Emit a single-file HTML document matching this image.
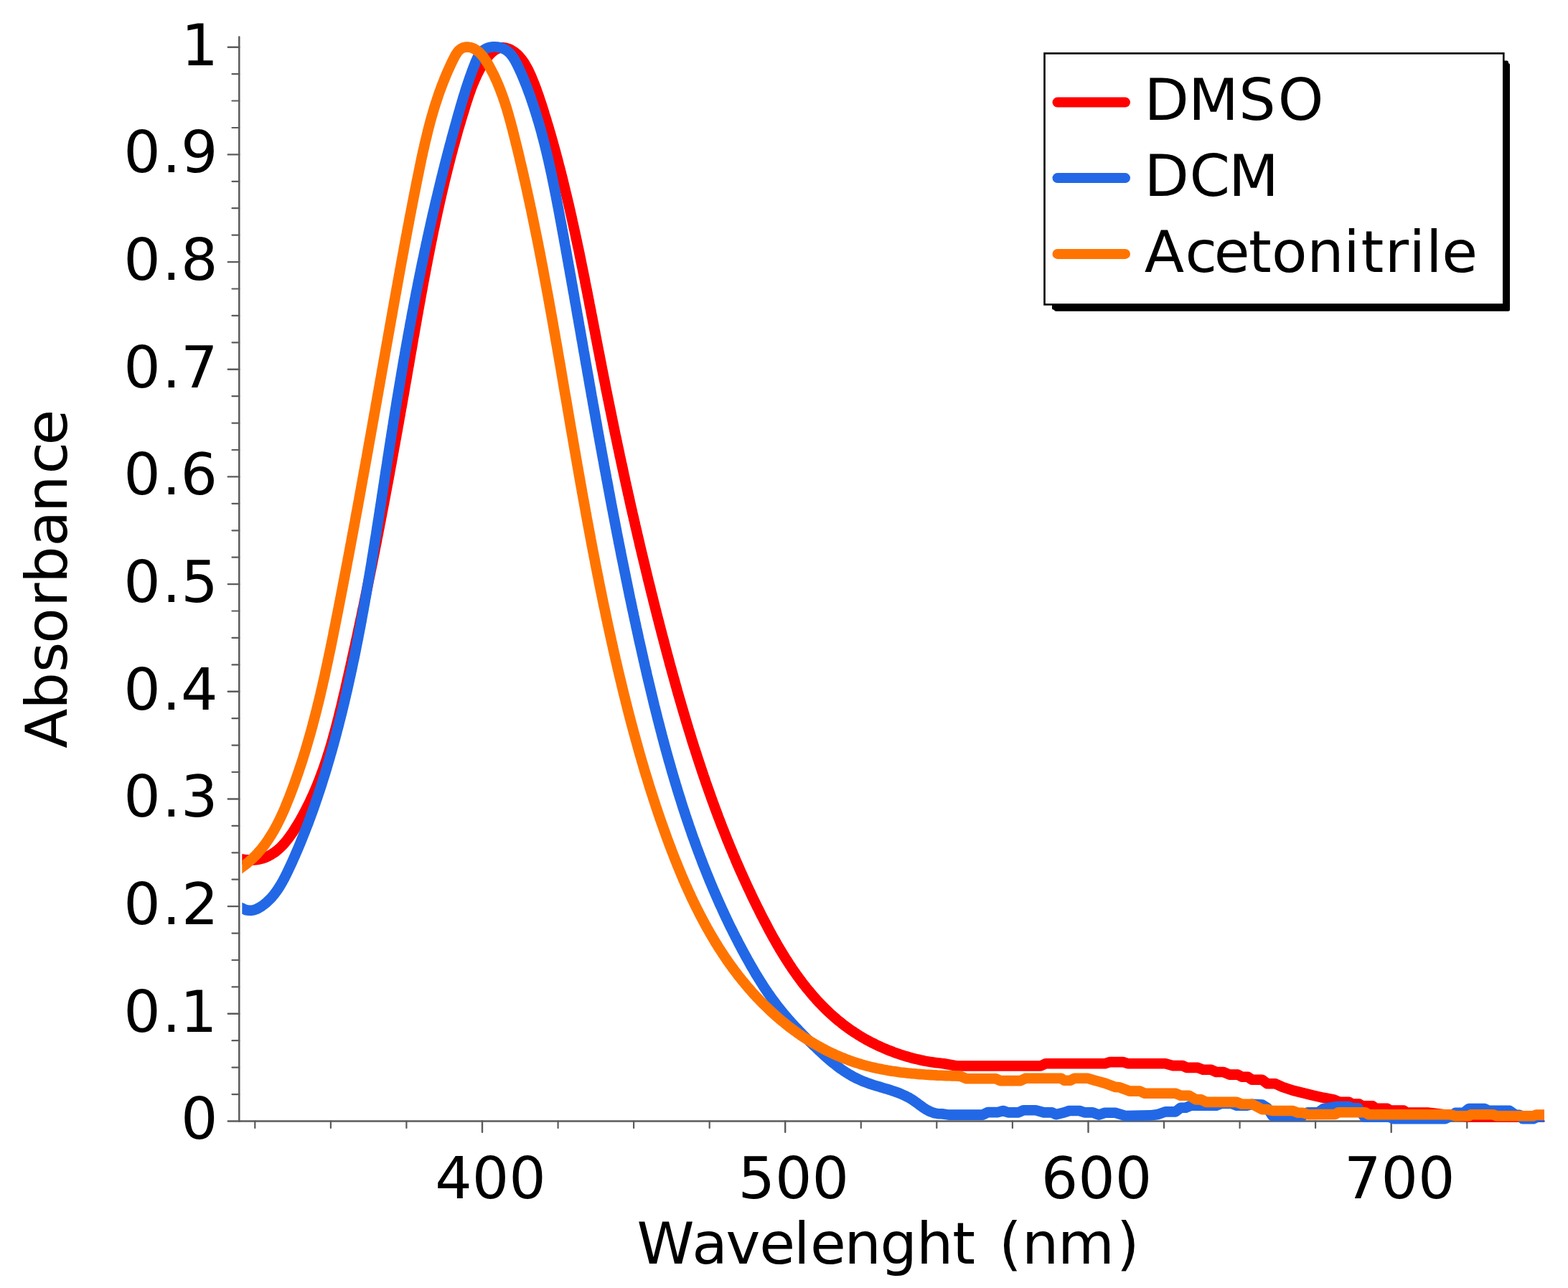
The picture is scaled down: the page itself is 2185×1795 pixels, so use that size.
<!DOCTYPE html><html><head><meta charset="utf-8"><title>Absorbance spectra</title>
<style>html,body{margin:0;padding:0;background:#fff}body{width:2185px;height:1795px;overflow:hidden}svg{display:block}</style></head><body>
<svg xmlns="http://www.w3.org/2000/svg" width="2185" height="1795" viewBox="0 0 2185 1795">
<rect width="2185" height="1795" fill="#fff"/>
<g stroke="#5b5b5b" fill="none" stroke-linecap="round">
<line x1="333.3" y1="51.6" x2="333.3" y2="1562.5" stroke-width="2.5"/>
<line x1="333.3" y1="1562.5" x2="2151.5" y2="1562.5" stroke-width="2.5"/>
<line x1="317.8" y1="1562.5" x2="333.3" y2="1562.5" stroke-width="2.4"/>
<line x1="323.5" y1="1525.1" x2="333.3" y2="1525.1" stroke-width="2.2"/>
<line x1="323.5" y1="1487.7" x2="333.3" y2="1487.7" stroke-width="2.2"/>
<line x1="323.5" y1="1450.2" x2="333.3" y2="1450.2" stroke-width="2.2"/>
<line x1="317.8" y1="1412.8" x2="333.3" y2="1412.8" stroke-width="2.4"/>
<line x1="323.5" y1="1375.4" x2="333.3" y2="1375.4" stroke-width="2.2"/>
<line x1="323.5" y1="1338.0" x2="333.3" y2="1338.0" stroke-width="2.2"/>
<line x1="323.5" y1="1300.6" x2="333.3" y2="1300.6" stroke-width="2.2"/>
<line x1="317.8" y1="1263.1" x2="333.3" y2="1263.1" stroke-width="2.4"/>
<line x1="323.5" y1="1225.7" x2="333.3" y2="1225.7" stroke-width="2.2"/>
<line x1="323.5" y1="1188.3" x2="333.3" y2="1188.3" stroke-width="2.2"/>
<line x1="323.5" y1="1150.9" x2="333.3" y2="1150.9" stroke-width="2.2"/>
<line x1="317.8" y1="1113.5" x2="333.3" y2="1113.5" stroke-width="2.4"/>
<line x1="323.5" y1="1076.0" x2="333.3" y2="1076.0" stroke-width="2.2"/>
<line x1="323.5" y1="1038.6" x2="333.3" y2="1038.6" stroke-width="2.2"/>
<line x1="323.5" y1="1001.2" x2="333.3" y2="1001.2" stroke-width="2.2"/>
<line x1="317.8" y1="963.8" x2="333.3" y2="963.8" stroke-width="2.4"/>
<line x1="323.5" y1="926.4" x2="333.3" y2="926.4" stroke-width="2.2"/>
<line x1="323.5" y1="888.9" x2="333.3" y2="888.9" stroke-width="2.2"/>
<line x1="323.5" y1="851.5" x2="333.3" y2="851.5" stroke-width="2.2"/>
<line x1="317.8" y1="814.1" x2="333.3" y2="814.1" stroke-width="2.4"/>
<line x1="323.5" y1="776.7" x2="333.3" y2="776.7" stroke-width="2.2"/>
<line x1="323.5" y1="739.3" x2="333.3" y2="739.3" stroke-width="2.2"/>
<line x1="323.5" y1="701.8" x2="333.3" y2="701.8" stroke-width="2.2"/>
<line x1="317.8" y1="664.4" x2="333.3" y2="664.4" stroke-width="2.4"/>
<line x1="323.5" y1="627.0" x2="333.3" y2="627.0" stroke-width="2.2"/>
<line x1="323.5" y1="589.6" x2="333.3" y2="589.6" stroke-width="2.2"/>
<line x1="323.5" y1="552.2" x2="333.3" y2="552.2" stroke-width="2.2"/>
<line x1="317.8" y1="514.7" x2="333.3" y2="514.7" stroke-width="2.4"/>
<line x1="323.5" y1="477.3" x2="333.3" y2="477.3" stroke-width="2.2"/>
<line x1="323.5" y1="439.9" x2="333.3" y2="439.9" stroke-width="2.2"/>
<line x1="323.5" y1="402.5" x2="333.3" y2="402.5" stroke-width="2.2"/>
<line x1="317.8" y1="365.1" x2="333.3" y2="365.1" stroke-width="2.4"/>
<line x1="323.5" y1="327.6" x2="333.3" y2="327.6" stroke-width="2.2"/>
<line x1="323.5" y1="290.2" x2="333.3" y2="290.2" stroke-width="2.2"/>
<line x1="323.5" y1="252.8" x2="333.3" y2="252.8" stroke-width="2.2"/>
<line x1="317.8" y1="215.4" x2="333.3" y2="215.4" stroke-width="2.4"/>
<line x1="323.5" y1="178.0" x2="333.3" y2="178.0" stroke-width="2.2"/>
<line x1="323.5" y1="140.5" x2="333.3" y2="140.5" stroke-width="2.2"/>
<line x1="323.5" y1="103.1" x2="333.3" y2="103.1" stroke-width="2.2"/>
<line x1="317.8" y1="65.7" x2="333.3" y2="65.7" stroke-width="2.4"/>
<line x1="355.3" y1="1562.5" x2="355.3" y2="1572" stroke-width="2.2"/>
<line x1="460.9" y1="1562.5" x2="460.9" y2="1572" stroke-width="2.2"/>
<line x1="566.4" y1="1562.5" x2="566.4" y2="1572" stroke-width="2.2"/>
<line x1="672.0" y1="1562.5" x2="672.0" y2="1577.7" stroke-width="2.4"/>
<line x1="777.6" y1="1562.5" x2="777.6" y2="1572" stroke-width="2.2"/>
<line x1="883.1" y1="1562.5" x2="883.1" y2="1572" stroke-width="2.2"/>
<line x1="988.7" y1="1562.5" x2="988.7" y2="1572" stroke-width="2.2"/>
<line x1="1094.2" y1="1562.5" x2="1094.2" y2="1577.7" stroke-width="2.4"/>
<line x1="1199.8" y1="1562.5" x2="1199.8" y2="1572" stroke-width="2.2"/>
<line x1="1305.3" y1="1562.5" x2="1305.3" y2="1572" stroke-width="2.2"/>
<line x1="1410.9" y1="1562.5" x2="1410.9" y2="1572" stroke-width="2.2"/>
<line x1="1516.5" y1="1562.5" x2="1516.5" y2="1577.7" stroke-width="2.4"/>
<line x1="1622.0" y1="1562.5" x2="1622.0" y2="1572" stroke-width="2.2"/>
<line x1="1727.6" y1="1562.5" x2="1727.6" y2="1572" stroke-width="2.2"/>
<line x1="1833.1" y1="1562.5" x2="1833.1" y2="1572" stroke-width="2.2"/>
<line x1="1938.7" y1="1562.5" x2="1938.7" y2="1577.7" stroke-width="2.4"/>
<line x1="2044.3" y1="1562.5" x2="2044.3" y2="1572" stroke-width="2.2"/>
</g>
<g font-family="'DejaVu Sans','Liberation Sans',sans-serif" font-size="81" fill="#000">
<text x="252.0" y="1587.3" font-size="81">0</text>
<text x="172.3 225.9 251.1" y="1437.6" font-size="81">0.1</text>
<text x="172.3 225.9 252.9" y="1287.9" font-size="81">0.2</text>
<text x="172.3 225.9 252.0" y="1138.3" font-size="81">0.3</text>
<text x="172.3 225.9 252.1" y="988.6" font-size="81">0.4</text>
<text x="172.3 225.9 252.2" y="838.9" font-size="81">0.5</text>
<text x="172.3 225.9 251.6" y="689.2" font-size="81">0.6</text>
<text x="172.3 225.9 252.0" y="539.5" font-size="81">0.7</text>
<text x="172.3 225.9 251.9" y="389.9" font-size="81">0.8</text>
<text x="172.3 225.9 252.1" y="240.2" font-size="81">0.9</text>
<text x="252.4" y="90.5" font-size="81">1</text>
<text x="683.5" y="1669.5" text-anchor="middle">400</text>
<text x="1105.7" y="1669.5" text-anchor="middle">500</text>
<text x="1528.0" y="1669.5" text-anchor="middle">600</text>
<text x="1950.2" y="1669.5" text-anchor="middle">700</text>
<text x="887.6 964.2 1011.5 1058.2 1106.0 1128.9 1176.5 1226.6 1276.9 1327.3 1359.1 1392.0 1423.9 1474.0 1556.0" y="1760.7" font-size="81">Wavelenght (nm)</text>
<text transform="translate(92.7,1100.0) rotate(-90)" x="56.9 111.6 162.9 203.2 254.2 287.2 338.5 385.9 439.6 479.4" y="0">Absorbance</text>
</g>
<defs><clipPath id="pc"><rect x="337.3" y="0" width="1814.7" height="1795"/></clipPath></defs>
<g fill="none" stroke-width="14.6" stroke-linejoin="round" stroke-linecap="butt" clip-path="url(#pc)">
<polyline stroke="#ff0000" points="327.1,1196.2 337.1,1197.4 340.6,1198.0 344.0,1198.4 347.3,1198.6 350.5,1198.7 353.7,1198.5 356.7,1198.2 359.7,1197.8 362.6,1197.2 365.4,1196.5 368.1,1195.6 370.7,1194.6 373.3,1193.4 375.8,1192.1 378.3,1190.7 380.6,1189.2 383.0,1187.6 385.2,1185.9 387.4,1184.1 389.5,1182.2 391.6,1180.2 393.7,1178.1 395.6,1176.0 397.6,1173.7 399.4,1171.5 401.3,1169.1 403.1,1166.7 404.8,1164.3 406.6,1161.8 408.3,1159.3 409.9,1156.8 411.5,1154.2 413.1,1151.6 414.7,1149.0 416.3,1146.4 417.8,1143.8 419.3,1141.2 420.8,1138.5 422.2,1135.9 423.6,1133.3 425.1,1130.6 426.4,1127.9 427.8,1125.2 429.1,1122.6 430.5,1119.9 431.8,1117.2 433.0,1114.4 434.3,1111.7 435.6,1109.0 436.8,1106.3 438.0,1103.5 439.2,1100.8 440.3,1098.0 441.5,1095.3 442.6,1092.5 443.7,1089.7 444.8,1086.9 445.9,1084.1 446.9,1081.3 448.0,1078.5 449.0,1075.7 450.0,1072.9 451.0,1070.1 452.0,1067.3 453.0,1064.4 453.9,1061.6 454.9,1058.8 455.8,1055.9 456.7,1053.1 457.6,1050.2 458.5,1047.4 459.4,1044.5 460.3,1041.6 461.1,1038.8 462.0,1035.9 462.8,1033.0 463.6,1030.1 464.4,1027.2 465.2,1024.3 466.0,1021.4 466.8,1018.5 467.6,1015.6 468.4,1012.7 469.1,1009.8 469.9,1006.9 470.6,1004.0 471.4,1001.1 472.1,998.2 472.8,995.3 473.5,992.4 474.3,989.4 475.0,986.5 475.7,983.6 476.4,980.7 477.1,977.7 477.7,974.8 478.4,971.9 479.1,969.0 479.8,966.0 480.5,963.1 481.2,960.2 481.8,957.2 482.5,954.3 483.2,951.4 483.8,948.5 484.5,945.5 485.2,942.6 485.8,939.7 486.5,936.7 487.2,933.8 487.8,930.9 488.5,928.0 489.1,925.0 489.8,922.1 490.4,919.2 491.1,916.2 491.7,913.3 492.4,910.4 493.0,907.4 493.7,904.5 494.3,901.6 495.0,898.7 495.6,895.7 496.2,892.8 496.9,889.9 497.5,886.9 498.2,884.0 498.8,881.1 499.4,878.1 500.0,875.2 500.7,872.3 501.3,869.3 501.9,866.4 502.5,863.5 503.2,860.6 503.8,857.6 504.4,854.7 505.0,851.8 505.6,848.8 506.3,845.9 506.9,843.0 507.5,840.0 508.1,837.1 508.7,834.2 509.3,831.2 509.9,828.3 510.5,825.4 511.1,822.4 511.7,819.5 512.3,816.6 512.9,813.6 513.5,810.7 514.1,807.8 514.7,804.8 515.3,801.9 515.9,799.0 516.5,796.0 517.1,793.1 517.7,790.2 518.3,787.2 518.9,784.3 519.5,781.4 520.0,778.4 520.6,775.5 521.2,772.6 521.8,769.6 522.4,766.7 522.9,763.8 523.5,760.8 524.1,757.9 524.7,755.0 525.2,752.0 525.8,749.1 526.4,746.1 527.0,743.2 527.5,740.3 528.1,737.3 528.7,734.4 529.2,731.5 529.8,728.5 530.4,725.6 530.9,722.6 531.5,719.7 532.1,716.8 532.6,713.8 533.2,710.9 533.7,708.0 534.3,705.0 534.9,702.1 535.4,699.1 536.0,696.2 536.5,693.3 537.1,690.3 537.6,687.4 538.2,684.4 538.7,681.5 539.3,678.6 539.8,675.6 540.4,672.7 540.9,669.7 541.5,666.8 542.0,663.8 542.6,660.9 543.1,658.0 543.6,655.0 544.2,652.1 544.7,649.1 545.3,646.2 545.8,643.2 546.3,640.3 546.9,637.3 547.4,634.4 547.9,631.5 548.5,628.5 549.0,625.6 549.5,622.6 550.1,619.7 550.6,616.7 551.1,613.8 551.7,610.8 552.2,607.9 552.7,604.9 553.3,602.0 553.8,599.0 554.3,596.1 554.8,593.1 555.4,590.2 555.9,587.2 556.4,584.3 556.9,581.3 557.5,578.4 558.0,575.4 558.5,572.5 559.0,569.5 559.6,566.6 560.1,563.6 560.6,560.7 561.1,557.7 561.6,554.8 562.2,551.8 562.7,548.9 563.2,545.9 563.7,543.0 564.2,540.0 564.7,537.0 565.2,534.1 565.8,531.1 566.3,528.2 566.8,525.2 567.3,522.3 567.8,519.3 568.3,516.3 568.8,513.4 569.4,510.4 569.9,507.5 570.4,504.5 570.9,501.6 571.4,498.6 571.9,495.6 572.4,492.7 572.9,489.7 573.5,486.8 574.0,483.8 574.5,480.8 575.0,477.9 575.5,474.9 576.0,472.0 576.5,469.0 577.1,466.0 577.6,463.1 578.1,460.1 578.6,457.2 579.1,454.2 579.7,451.2 580.2,448.3 580.7,445.3 581.2,442.4 581.7,439.4 582.3,436.5 582.8,433.5 583.3,430.5 583.9,427.6 584.4,424.6 584.9,421.7 585.5,418.7 586.0,415.8 586.5,412.8 587.1,409.8 587.6,406.9 588.2,403.9 588.7,401.0 589.2,398.0 589.8,395.1 590.3,392.1 590.9,389.2 591.4,386.2 592.0,383.3 592.6,380.3 593.1,377.4 593.7,374.4 594.2,371.5 594.8,368.5 595.4,365.6 595.9,362.6 596.5,359.7 597.1,356.7 597.7,353.8 598.3,350.8 598.8,347.9 599.4,345.0 600.0,342.0 600.6,339.1 601.2,336.1 601.8,333.2 602.4,330.3 603.0,327.3 603.6,324.4 604.2,321.4 604.8,318.5 605.5,315.6 606.1,312.6 606.7,309.7 607.3,306.8 608.0,303.8 608.6,300.9 609.2,298.0 609.9,295.1 610.5,292.1 611.2,289.2 611.8,286.3 612.5,283.4 613.1,280.4 613.8,277.5 614.5,274.6 615.1,271.7 615.8,268.8 616.5,265.9 617.2,262.9 617.9,260.0 618.6,257.1 619.2,254.2 619.9,251.3 620.7,248.4 621.4,245.5 622.1,242.6 622.8,239.7 623.5,236.8 624.3,233.9 625.0,231.0 625.7,228.1 626.5,225.2 627.2,222.3 628.0,219.4 628.7,216.5 629.5,213.6 630.3,210.7 631.0,207.8 631.8,204.9 632.6,202.1 633.4,199.2 634.2,196.3 635.0,193.4 635.8,190.5 636.6,187.7 637.4,184.8 638.2,181.9 639.0,179.1 639.9,176.2 640.7,173.3 641.6,170.5 642.4,167.6 643.3,164.7 644.1,161.9 645.0,159.0 645.9,156.2 646.8,153.3 647.6,150.5 648.5,147.6 649.4,144.8 650.3,141.9 651.3,139.1 652.2,136.2 653.1,133.4 654.1,130.6 655.1,127.8 656.1,124.9 657.1,122.1 658.2,119.3 659.3,116.6 660.5,113.8 661.6,111.0 662.9,108.3 664.1,105.5 665.4,102.8 666.8,100.1 668.2,97.4 669.7,94.7 671.2,92.1 672.8,89.4 674.4,86.8 676.1,84.2 677.9,81.7 679.8,79.2 681.7,76.8 683.8,74.6 686.0,72.5 688.3,70.7 690.8,69.1 693.4,67.9 696.2,66.9 699.0,66.4 701.8,66.4 704.6,66.8 707.4,67.5 710.1,68.6 712.7,69.9 715.2,71.4 717.5,73.1 719.8,74.9 721.9,76.9 723.9,79.0 725.8,81.2 727.7,83.6 729.4,86.0 731.1,88.5 732.6,91.2 734.1,93.9 735.6,96.6 737.0,99.4 738.3,102.2 739.6,105.1 740.8,107.9 742.0,110.8 743.2,113.7 744.3,116.5 745.4,119.4 746.5,122.2 747.5,125.0 748.5,127.9 749.5,130.7 750.5,133.5 751.5,136.3 752.4,139.2 753.3,142.0 754.3,144.8 755.2,147.6 756.1,150.5 757.0,153.3 757.9,156.1 758.7,159.0 759.6,161.8 760.5,164.6 761.4,167.5 762.2,170.3 763.1,173.2 763.9,176.0 764.8,178.8 765.6,181.7 766.4,184.5 767.3,187.4 768.1,190.3 768.9,193.1 769.7,196.0 770.5,198.8 771.3,201.7 772.1,204.6 772.9,207.4 773.7,210.3 774.5,213.2 775.2,216.1 776.0,218.9 776.8,221.8 777.5,224.7 778.3,227.6 779.0,230.5 779.8,233.3 780.5,236.2 781.3,239.1 782.0,242.0 782.7,244.9 783.5,247.8 784.2,250.7 784.9,253.6 785.6,256.5 786.3,259.4 787.0,262.3 787.7,265.2 788.4,268.1 789.1,271.0 789.8,273.9 790.5,276.8 791.2,279.7 791.9,282.6 792.6,285.5 793.2,288.4 793.9,291.4 794.6,294.3 795.2,297.2 795.9,300.1 796.5,303.0 797.2,305.9 797.8,308.9 798.5,311.8 799.1,314.7 799.8,317.6 800.4,320.6 801.1,323.5 801.7,326.4 802.3,329.3 802.9,332.3 803.6,335.2 804.2,338.1 804.8,341.1 805.4,344.0 806.1,346.9 806.7,349.9 807.3,352.8 807.9,355.8 808.5,358.7 809.1,361.6 809.7,364.6 810.3,367.5 810.9,370.4 811.5,373.4 812.1,376.3 812.7,379.3 813.3,382.2 813.9,385.2 814.5,388.1 815.1,391.0 815.6,394.0 816.2,396.9 816.8,399.9 817.4,402.8 818.0,405.8 818.6,408.7 819.1,411.7 819.7,414.6 820.3,417.6 820.9,420.5 821.4,423.5 822.0,426.4 822.6,429.4 823.2,432.3 823.7,435.3 824.3,438.2 824.9,441.2 825.5,444.1 826.0,447.1 826.6,450.0 827.2,453.0 827.7,455.9 828.3,458.9 828.9,461.8 829.5,464.8 830.0,467.7 830.6,470.7 831.2,473.6 831.7,476.6 832.3,479.5 832.9,482.5 833.4,485.4 834.0,488.4 834.6,491.3 835.2,494.3 835.7,497.2 836.3,500.2 836.9,503.1 837.5,506.1 838.0,509.0 838.6,512.0 839.2,514.9 839.8,517.9 840.3,520.8 840.9,523.8 841.5,526.7 842.1,529.7 842.7,532.6 843.3,535.6 843.8,538.5 844.4,541.5 845.0,544.4 845.6,547.3 846.2,550.3 846.8,553.2 847.4,556.2 848.0,559.1 848.6,562.1 849.2,565.0 849.8,567.9 850.4,570.9 851.0,573.8 851.6,576.8 852.2,579.7 852.8,582.6 853.4,585.6 854.0,588.5 854.6,591.5 855.2,594.4 855.8,597.3 856.4,600.3 857.0,603.2 857.6,606.1 858.3,609.1 858.9,612.0 859.5,614.9 860.1,617.9 860.7,620.8 861.3,623.7 862.0,626.7 862.6,629.6 863.2,632.5 863.8,635.5 864.5,638.4 865.1,641.3 865.7,644.3 866.4,647.2 867.0,650.1 867.6,653.0 868.3,656.0 868.9,658.9 869.5,661.8 870.2,664.8 870.8,667.7 871.4,670.6 872.1,673.5 872.7,676.5 873.4,679.4 874.0,682.3 874.7,685.2 875.3,688.2 876.0,691.1 876.6,694.0 877.3,696.9 877.9,699.8 878.6,702.8 879.2,705.7 879.9,708.6 880.6,711.5 881.2,714.5 881.9,717.4 882.6,720.3 883.2,723.2 883.9,726.1 884.6,729.0 885.2,732.0 885.9,734.9 886.6,737.8 887.3,740.7 887.9,743.6 888.6,746.5 889.3,749.5 890.0,752.4 890.7,755.3 891.3,758.2 892.0,761.1 892.7,764.0 893.4,766.9 894.1,769.9 894.8,772.8 895.5,775.7 896.2,778.6 896.9,781.5 897.6,784.4 898.3,787.3 899.0,790.2 899.7,793.1 900.4,796.1 901.1,799.0 901.8,801.9 902.5,804.8 903.2,807.7 903.9,810.6 904.6,813.5 905.4,816.4 906.1,819.3 906.8,822.2 907.5,825.1 908.2,828.0 909.0,830.9 909.7,833.8 910.4,836.7 911.1,839.6 911.9,842.6 912.6,845.5 913.3,848.4 914.1,851.3 914.8,854.2 915.5,857.1 916.3,860.0 917.0,862.9 917.8,865.8 918.5,868.7 919.3,871.6 920.0,874.5 920.8,877.4 921.5,880.3 922.3,883.2 923.0,886.1 923.8,888.9 924.6,891.8 925.3,894.7 926.1,897.6 926.8,900.5 927.6,903.4 928.4,906.3 929.1,909.2 929.9,912.1 930.7,915.0 931.5,917.9 932.3,920.8 933.0,923.7 933.8,926.6 934.6,929.5 935.4,932.3 936.2,935.2 937.0,938.1 937.8,941.0 938.6,943.9 939.4,946.8 940.2,949.7 941.0,952.6 941.8,955.4 942.6,958.3 943.4,961.2 944.2,964.1 945.0,967.0 945.9,969.9 946.7,972.7 947.5,975.6 948.4,978.5 949.2,981.4 950.0,984.2 950.9,987.1 951.7,990.0 952.6,992.9 953.4,995.7 954.3,998.6 955.1,1001.5 956.0,1004.4 956.8,1007.2 957.7,1010.1 958.6,1013.0 959.4,1015.8 960.3,1018.7 961.2,1021.5 962.1,1024.4 963.0,1027.3 963.8,1030.1 964.7,1033.0 965.6,1035.8 966.5,1038.7 967.4,1041.6 968.4,1044.4 969.3,1047.3 970.2,1050.1 971.1,1053.0 972.0,1055.8 973.0,1058.7 973.9,1061.5 974.8,1064.3 975.8,1067.2 976.7,1070.0 977.7,1072.9 978.6,1075.7 979.6,1078.5 980.5,1081.4 981.5,1084.2 982.5,1087.0 983.4,1089.9 984.4,1092.7 985.4,1095.5 986.4,1098.4 987.4,1101.2 988.4,1104.0 989.4,1106.8 990.4,1109.7 991.4,1112.5 992.4,1115.3 993.4,1118.1 994.5,1120.9 995.5,1123.7 996.5,1126.5 997.6,1129.4 998.6,1132.2 999.7,1135.0 1000.7,1137.8 1001.8,1140.6 1002.9,1143.4 1003.9,1146.2 1005.0,1149.0 1006.1,1151.8 1007.2,1154.6 1008.3,1157.3 1009.4,1160.1 1010.5,1162.9 1011.6,1165.7 1012.7,1168.5 1013.8,1171.3 1015.0,1174.0 1016.1,1176.8 1017.2,1179.6 1018.4,1182.4 1019.5,1185.1 1020.7,1187.9 1021.8,1190.7 1023.0,1193.4 1024.2,1196.2 1025.3,1199.0 1026.5,1201.7 1027.7,1204.5 1028.9,1207.2 1030.1,1210.0 1031.3,1212.7 1032.5,1215.5 1033.8,1218.2 1035.0,1221.0 1036.2,1223.7 1037.5,1226.4 1038.7,1229.2 1040.0,1231.9 1041.2,1234.6 1042.5,1237.4 1043.8,1240.1 1045.1,1242.8 1046.3,1245.5 1047.6,1248.3 1048.9,1251.0 1050.2,1253.7 1051.5,1256.4 1052.9,1259.1 1054.2,1261.8 1055.5,1264.5 1056.9,1267.2 1058.2,1269.9 1059.6,1272.6 1060.9,1275.3 1062.3,1278.0 1063.7,1280.7 1065.1,1283.4 1066.5,1286.0 1067.9,1288.7 1069.3,1291.4 1070.7,1294.1 1072.1,1296.7 1073.5,1299.4 1075.0,1302.0 1076.4,1304.7 1077.9,1307.3 1079.4,1309.9 1080.9,1312.5 1082.4,1315.2 1083.9,1317.8 1085.4,1320.4 1086.9,1323.0 1088.5,1325.5 1090.0,1328.1 1091.6,1330.7 1093.2,1333.2 1094.8,1335.8 1096.4,1338.3 1098.0,1340.8 1099.6,1343.3 1101.3,1345.8 1102.9,1348.3 1104.6,1350.8 1106.3,1353.2 1108.0,1355.7 1109.7,1358.1 1111.4,1360.5 1113.2,1362.9 1115.0,1365.3 1116.7,1367.7 1118.5,1370.1 1120.3,1372.4 1122.2,1374.7 1124.0,1377.1 1125.9,1379.4 1127.8,1381.6 1129.7,1383.9 1131.6,1386.2 1133.5,1388.4 1135.5,1390.6 1137.4,1392.8 1139.4,1395.0 1141.4,1397.1 1143.5,1399.3 1145.5,1401.4 1147.6,1403.5 1149.7,1405.6 1151.8,1407.6 1153.9,1409.6 1156.1,1411.7 1158.2,1413.7 1160.4,1415.6 1162.6,1417.6 1164.9,1419.5 1167.1,1421.4 1169.4,1423.3 1171.7,1425.1 1174.0,1427.0 1176.4,1428.8 1178.8,1430.6 1181.2,1432.3 1183.6,1434.1 1186.0,1435.8 1188.5,1437.4 1191.0,1439.1 1193.5,1440.7 1196.0,1442.3 1198.6,1443.9 1201.2,1445.5 1203.8,1447.0 1206.4,1448.5 1209.1,1449.9 1211.8,1451.4 1214.5,1452.8 1217.2,1454.1 1219.9,1455.5 1222.7,1456.8 1225.4,1458.1 1228.2,1459.4 1231.0,1460.6 1233.8,1461.8 1236.6,1463.0 1239.4,1464.1 1242.3,1465.2 1245.1,1466.3 1248.0,1467.3 1250.9,1468.4 1253.8,1469.3 1256.7,1470.3 1259.6,1471.2 1262.5,1472.1 1265.4,1472.9 1268.3,1473.8 1271.2,1474.6 1274.1,1475.3 1277.1,1476.0 1280.0,1476.7 1282.9,1477.4 1285.9,1478.0 1288.8,1478.6 1291.7,1479.1 1294.6,1479.6 1297.6,1480.1 1300.5,1480.5 1303.4,1480.9 1306.3,1481.3 1309.2,1481.6 1312.1,1481.9 1315.0,1482.2 1333.0,1485.5 1450.3,1485.5 1457.4,1482.2 1539.8,1482.2 1546.9,1480.1 1565.3,1480.1 1571.4,1482.2 1623.9,1482.2 1633.8,1485.1 1648.0,1485.1 1653.7,1487.9 1669.3,1487.9 1676.4,1490.8 1687.8,1490.8 1694.9,1494.0 1704.8,1494.0 1713.3,1497.6 1724.7,1497.6 1730.4,1500.7 1738.9,1500.7 1744.6,1504.7 1758.8,1504.7 1765.9,1510.3 1777.2,1510.3 1787.2,1514.9 1801.4,1519.6 1815.6,1523.1 1829.8,1526.7 1844.0,1529.8 1858.2,1532.4 1866.5,1535.7 1879.5,1535.7 1883.9,1538.5 1894.0,1538.5 1898.3,1541.4 1912.7,1541.4 1917.1,1544.7 1933.0,1544.7 1937.3,1547.6 1956.0,1547.6 1960.4,1550.5 1989.2,1550.5 2010.0,1553.0 2030.0,1555.0 2048.0,1556.4 2151.5,1556.4 2161.5,1556.4"/>
<polyline stroke="#2268e6" points="327.1,1262.1 337.1,1265.6 340.2,1267.2 343.3,1268.3 346.3,1268.8 349.2,1268.9 352.0,1268.6 354.8,1267.9 357.5,1266.9 360.1,1265.6 362.6,1264.2 365.0,1262.6 367.4,1260.9 369.6,1259.1 371.8,1257.3 373.9,1255.3 376.0,1253.3 378.0,1251.2 379.9,1249.0 381.7,1246.8 383.5,1244.5 385.2,1242.2 386.9,1239.8 388.5,1237.3 390.1,1234.8 391.6,1232.3 393.1,1229.7 394.5,1227.1 396.0,1224.4 397.3,1221.8 398.7,1219.1 400.0,1216.4 401.3,1213.6 402.6,1210.9 403.9,1208.1 405.2,1205.4 406.5,1202.6 407.7,1199.8 408.9,1197.1 410.2,1194.3 411.4,1191.5 412.6,1188.7 413.8,1186.0 415.0,1183.2 416.2,1180.4 417.3,1177.6 418.5,1174.8 419.6,1172.0 420.8,1169.2 421.9,1166.4 423.0,1163.6 424.1,1160.8 425.2,1158.0 426.3,1155.2 427.4,1152.4 428.5,1149.6 429.6,1146.8 430.6,1143.9 431.7,1141.1 432.7,1138.3 433.7,1135.5 434.8,1132.6 435.8,1129.8 436.8,1127.0 437.8,1124.1 438.8,1121.3 439.8,1118.4 440.7,1115.6 441.7,1112.8 442.7,1109.9 443.6,1107.1 444.6,1104.2 445.5,1101.4 446.4,1098.5 447.4,1095.7 448.3,1092.8 449.2,1089.9 450.1,1087.1 451.0,1084.2 451.9,1081.3 452.8,1078.5 453.7,1075.6 454.5,1072.7 455.4,1069.9 456.2,1067.0 457.1,1064.1 457.9,1061.2 458.8,1058.4 459.6,1055.5 460.4,1052.6 461.3,1049.7 462.1,1046.8 462.9,1044.0 463.7,1041.1 464.5,1038.2 465.3,1035.3 466.1,1032.4 466.9,1029.5 467.6,1026.6 468.4,1023.7 469.2,1020.8 469.9,1017.9 470.7,1015.0 471.5,1012.1 472.2,1009.2 472.9,1006.3 473.7,1003.4 474.4,1000.5 475.1,997.6 475.9,994.7 476.6,991.8 477.3,988.9 478.0,986.0 478.7,983.1 479.4,980.2 480.1,977.3 480.8,974.4 481.5,971.4 482.1,968.5 482.8,965.6 483.5,962.7 484.2,959.8 484.8,956.9 485.5,953.9 486.1,951.0 486.8,948.1 487.4,945.2 488.1,942.2 488.7,939.3 489.3,936.4 490.0,933.5 490.6,930.5 491.2,927.6 491.8,924.7 492.4,921.7 493.1,918.8 493.7,915.9 494.3,913.0 494.9,910.0 495.5,907.1 496.1,904.1 496.6,901.2 497.2,898.3 497.8,895.3 498.4,892.4 499.0,889.5 499.5,886.5 500.1,883.6 500.7,880.6 501.2,877.7 501.8,874.7 502.4,871.8 502.9,868.8 503.5,865.9 504.0,863.0 504.5,860.0 505.1,857.1 505.6,854.1 506.2,851.2 506.7,848.2 507.2,845.3 507.8,842.3 508.3,839.4 508.8,836.4 509.3,833.5 509.9,830.5 510.4,827.5 510.9,824.6 511.4,821.6 511.9,818.7 512.4,815.7 512.9,812.8 513.4,809.8 513.9,806.8 514.4,803.9 514.9,800.9 515.4,798.0 515.9,795.0 516.4,792.0 516.9,789.1 517.4,786.1 517.9,783.2 518.3,780.2 518.8,777.2 519.3,774.3 519.8,771.3 520.3,768.3 520.7,765.4 521.2,762.4 521.7,759.5 522.2,756.5 522.6,753.5 523.1,750.6 523.6,747.6 524.1,744.6 524.5,741.7 525.0,738.7 525.4,735.7 525.9,732.8 526.4,729.8 526.8,726.8 527.3,723.9 527.8,720.9 528.2,717.9 528.7,714.9 529.1,712.0 529.6,709.0 530.1,706.0 530.5,703.1 531.0,700.1 531.4,697.1 531.9,694.2 532.3,691.2 532.8,688.2 533.3,685.2 533.7,682.3 534.2,679.3 534.6,676.3 535.1,673.4 535.5,670.4 536.0,667.4 536.4,664.5 536.9,661.5 537.3,658.5 537.8,655.5 538.3,652.6 538.7,649.6 539.2,646.6 539.6,643.7 540.1,640.7 540.5,637.7 541.0,634.7 541.5,631.8 541.9,628.8 542.4,625.8 542.8,622.9 543.3,619.9 543.8,616.9 544.2,614.0 544.7,611.0 545.2,608.0 545.6,605.0 546.1,602.1 546.6,599.1 547.0,596.1 547.5,593.2 548.0,590.2 548.4,587.2 548.9,584.3 549.4,581.3 549.9,578.3 550.3,575.4 550.8,572.4 551.3,569.4 551.8,566.5 552.3,563.5 552.7,560.5 553.2,557.6 553.7,554.6 554.2,551.6 554.7,548.7 555.2,545.7 555.7,542.7 556.2,539.8 556.7,536.8 557.2,533.9 557.7,530.9 558.2,527.9 558.7,525.0 559.2,522.0 559.7,519.0 560.2,516.1 560.7,513.1 561.2,510.2 561.7,507.2 562.2,504.2 562.7,501.3 563.3,498.3 563.8,495.4 564.3,492.4 564.8,489.5 565.4,486.5 565.9,483.5 566.4,480.6 566.9,477.6 567.5,474.7 568.0,471.7 568.5,468.8 569.1,465.8 569.6,462.9 570.1,459.9 570.7,457.0 571.2,454.0 571.8,451.0 572.3,448.1 572.9,445.1 573.4,442.2 574.0,439.2 574.5,436.3 575.1,433.3 575.7,430.4 576.2,427.4 576.8,424.5 577.4,421.6 577.9,418.6 578.5,415.7 579.1,412.7 579.6,409.8 580.2,406.8 580.8,403.9 581.4,400.9 582.0,398.0 582.5,395.1 583.1,392.1 583.7,389.2 584.3,386.2 584.9,383.3 585.5,380.4 586.1,377.4 586.7,374.5 587.3,371.5 587.9,368.6 588.5,365.7 589.1,362.7 589.8,359.8 590.4,356.9 591.0,353.9 591.6,351.0 592.2,348.1 592.9,345.1 593.5,342.2 594.1,339.3 594.8,336.3 595.4,333.4 596.0,330.5 596.7,327.6 597.3,324.6 598.0,321.7 598.6,318.8 599.3,315.8 599.9,312.9 600.6,310.0 601.2,307.1 601.9,304.2 602.6,301.2 603.2,298.3 603.9,295.4 604.6,292.5 605.3,289.6 605.9,286.6 606.6,283.7 607.3,280.8 608.0,277.9 608.7,275.0 609.4,272.1 610.1,269.1 610.8,266.2 611.5,263.3 612.2,260.4 612.9,257.5 613.6,254.6 614.3,251.7 615.0,248.8 615.7,245.9 616.5,243.0 617.2,240.0 617.9,237.1 618.7,234.2 619.4,231.3 620.1,228.4 620.9,225.5 621.6,222.6 622.4,219.7 623.1,216.8 623.9,213.9 624.6,211.0 625.4,208.1 626.1,205.2 626.9,202.3 627.7,199.5 628.5,196.6 629.2,193.7 630.0,190.8 630.8,187.9 631.6,185.0 632.4,182.1 633.2,179.2 634.0,176.3 634.8,173.5 635.6,170.6 636.4,167.7 637.2,164.8 638.0,161.9 638.8,159.0 639.6,156.2 640.5,153.3 641.3,150.4 642.1,147.5 643.0,144.6 643.8,141.8 644.7,138.9 645.5,136.0 646.4,133.2 647.3,130.3 648.2,127.4 649.1,124.6 650.0,121.7 651.0,118.8 651.9,116.0 652.9,113.1 653.9,110.2 654.8,107.4 655.9,104.5 656.9,101.7 657.9,98.8 659.0,96.0 660.1,93.1 661.2,90.3 662.3,87.4 663.5,84.6 664.7,81.9 666.0,79.2 667.5,76.7 669.2,74.3 671.1,72.2 673.2,70.3 675.5,68.7 678.1,67.4 680.8,66.4 683.8,65.7 686.8,65.3 690.0,65.3 693.1,65.5 696.2,66.1 699.1,66.9 701.9,68.0 704.5,69.4 706.9,71.0 709.1,72.9 711.1,74.9 712.9,77.1 714.7,79.5 716.3,82.0 717.8,84.6 719.2,87.2 720.6,89.9 721.9,92.7 723.2,95.4 724.5,98.2 725.7,100.9 727.0,103.7 728.2,106.5 729.3,109.2 730.5,112.0 731.6,114.8 732.7,117.6 733.8,120.4 734.9,123.2 735.9,126.0 736.9,128.8 738.0,131.6 739.0,134.4 740.0,137.2 740.9,140.1 741.9,142.9 742.8,145.7 743.8,148.6 744.7,151.4 745.6,154.2 746.5,157.1 747.4,160.0 748.3,162.8 749.1,165.7 750.0,168.5 750.8,171.4 751.7,174.3 752.5,177.2 753.3,180.0 754.1,182.9 754.9,185.8 755.6,188.7 756.4,191.6 757.2,194.5 757.9,197.4 758.7,200.3 759.4,203.2 760.1,206.1 760.8,209.0 761.5,211.9 762.2,214.9 762.9,217.8 763.6,220.7 764.3,223.6 764.9,226.5 765.6,229.5 766.2,232.4 766.9,235.3 767.5,238.3 768.2,241.2 768.8,244.1 769.4,247.1 770.0,250.0 770.6,253.0 771.2,255.9 771.8,258.9 772.4,261.8 773.0,264.7 773.6,267.7 774.2,270.7 774.8,273.6 775.3,276.6 775.9,279.5 776.5,282.5 777.0,285.4 777.6,288.4 778.2,291.3 778.7,294.3 779.3,297.2 779.8,300.2 780.4,303.2 780.9,306.1 781.5,309.1 782.0,312.0 782.6,315.0 783.1,318.0 783.6,320.9 784.2,323.9 784.7,326.8 785.3,329.8 785.8,332.7 786.3,335.7 786.9,338.7 787.4,341.6 788.0,344.6 788.5,347.5 789.0,350.5 789.6,353.5 790.1,356.4 790.6,359.4 791.1,362.3 791.7,365.3 792.2,368.2 792.7,371.2 793.3,374.2 793.8,377.1 794.3,380.1 794.8,383.0 795.4,386.0 795.9,388.9 796.4,391.9 796.9,394.9 797.5,397.8 798.0,400.8 798.5,403.7 799.0,406.7 799.6,409.6 800.1,412.6 800.6,415.6 801.1,418.5 801.6,421.5 802.2,424.4 802.7,427.4 803.2,430.3 803.7,433.3 804.2,436.3 804.7,439.2 805.3,442.2 805.8,445.1 806.3,448.1 806.8,451.0 807.3,454.0 807.9,456.9 808.4,459.9 808.9,462.9 809.4,465.8 809.9,468.8 810.4,471.7 811.0,474.7 811.5,477.6 812.0,480.6 812.5,483.5 813.0,486.5 813.5,489.5 814.1,492.4 814.6,495.4 815.1,498.3 815.6,501.3 816.1,504.2 816.6,507.2 817.2,510.1 817.7,513.1 818.2,516.0 818.7,519.0 819.2,521.9 819.8,524.9 820.3,527.8 820.8,530.8 821.3,533.8 821.8,536.7 822.4,539.7 822.9,542.6 823.4,545.6 823.9,548.5 824.4,551.5 825.0,554.4 825.5,557.4 826.0,560.3 826.5,563.3 827.1,566.2 827.6,569.2 828.1,572.1 828.6,575.1 829.2,578.0 829.7,581.0 830.2,583.9 830.7,586.9 831.3,589.8 831.8,592.8 832.3,595.7 832.8,598.7 833.4,601.6 833.9,604.6 834.4,607.5 835.0,610.5 835.5,613.4 836.0,616.4 836.6,619.3 837.1,622.3 837.6,625.2 838.2,628.1 838.7,631.1 839.2,634.0 839.8,637.0 840.3,639.9 840.9,642.9 841.4,645.8 841.9,648.8 842.5,651.7 843.0,654.7 843.6,657.6 844.1,660.6 844.7,663.5 845.2,666.5 845.8,669.4 846.3,672.3 846.9,675.3 847.4,678.2 848.0,681.2 848.5,684.1 849.1,687.1 849.6,690.0 850.2,693.0 850.7,695.9 851.3,698.8 851.8,701.8 852.4,704.7 852.9,707.7 853.5,710.6 854.1,713.6 854.6,716.5 855.2,719.4 855.8,722.4 856.3,725.3 856.9,728.3 857.5,731.2 858.0,734.2 858.6,737.1 859.2,740.0 859.7,743.0 860.3,745.9 860.9,748.9 861.5,751.8 862.0,754.7 862.6,757.7 863.2,760.6 863.8,763.6 864.4,766.5 865.0,769.5 865.5,772.4 866.1,775.3 866.7,778.3 867.3,781.2 867.9,784.1 868.5,787.1 869.1,790.0 869.7,793.0 870.3,795.9 870.9,798.8 871.5,801.8 872.1,804.7 872.7,807.7 873.3,810.6 873.9,813.5 874.5,816.5 875.1,819.4 875.7,822.3 876.3,825.3 876.9,828.2 877.5,831.2 878.1,834.1 878.8,837.0 879.4,840.0 880.0,842.9 880.6,845.8 881.2,848.8 881.9,851.7 882.5,854.6 883.1,857.6 883.8,860.5 884.4,863.4 885.0,866.4 885.7,869.3 886.3,872.2 886.9,875.2 887.6,878.1 888.2,881.0 888.9,884.0 889.5,886.9 890.1,889.8 890.8,892.8 891.4,895.7 892.1,898.6 892.8,901.6 893.4,904.5 894.1,907.4 894.7,910.4 895.4,913.3 896.1,916.2 896.7,919.2 897.4,922.1 898.1,925.0 898.7,928.0 899.4,930.9 900.1,933.8 900.8,936.7 901.4,939.7 902.1,942.6 902.8,945.5 903.5,948.5 904.2,951.4 904.9,954.3 905.6,957.2 906.3,960.2 907.0,963.1 907.7,966.0 908.4,968.9 909.1,971.9 909.8,974.8 910.5,977.7 911.2,980.6 911.9,983.6 912.7,986.5 913.4,989.4 914.1,992.3 914.9,995.2 915.6,998.1 916.3,1001.1 917.1,1004.0 917.8,1006.9 918.6,1009.8 919.3,1012.7 920.1,1015.6 920.8,1018.5 921.6,1021.4 922.3,1024.4 923.1,1027.3 923.9,1030.2 924.7,1033.1 925.4,1036.0 926.2,1038.9 927.0,1041.8 927.8,1044.7 928.6,1047.6 929.4,1050.5 930.2,1053.4 931.0,1056.3 931.8,1059.2 932.6,1062.0 933.5,1064.9 934.3,1067.8 935.1,1070.7 935.9,1073.6 936.8,1076.5 937.6,1079.4 938.5,1082.3 939.3,1085.1 940.2,1088.0 941.0,1090.9 941.9,1093.8 942.8,1096.6 943.6,1099.5 944.5,1102.4 945.4,1105.2 946.3,1108.1 947.2,1111.0 948.1,1113.8 949.0,1116.7 949.9,1119.6 950.8,1122.4 951.7,1125.3 952.6,1128.1 953.6,1131.0 954.5,1133.8 955.4,1136.7 956.4,1139.5 957.3,1142.3 958.3,1145.2 959.3,1148.0 960.2,1150.9 961.2,1153.7 962.2,1156.5 963.2,1159.4 964.1,1162.2 965.1,1165.0 966.1,1167.8 967.2,1170.6 968.2,1173.5 969.2,1176.3 970.2,1179.1 971.2,1181.9 972.3,1184.7 973.3,1187.5 974.4,1190.3 975.4,1193.1 976.5,1195.9 977.6,1198.7 978.6,1201.5 979.7,1204.3 980.8,1207.1 981.9,1209.9 983.0,1212.6 984.1,1215.4 985.2,1218.2 986.4,1221.0 987.5,1223.7 988.6,1226.5 989.8,1229.3 990.9,1232.0 992.1,1234.8 993.2,1237.5 994.4,1240.3 995.6,1243.0 996.8,1245.8 998.0,1248.5 999.2,1251.3 1000.4,1254.0 1001.6,1256.7 1002.8,1259.5 1004.0,1262.2 1005.3,1264.9 1006.5,1267.6 1007.8,1270.4 1009.0,1273.1 1010.3,1275.8 1011.5,1278.5 1012.8,1281.2 1014.1,1283.9 1015.4,1286.6 1016.7,1289.3 1018.0,1292.0 1019.4,1294.7 1020.7,1297.3 1022.0,1300.0 1023.4,1302.7 1024.7,1305.4 1026.1,1308.0 1027.5,1310.7 1028.8,1313.4 1030.2,1316.0 1031.6,1318.7 1033.0,1321.3 1034.4,1324.0 1035.9,1326.6 1037.3,1329.2 1038.7,1331.9 1040.2,1334.5 1041.6,1337.1 1043.1,1339.8 1044.6,1342.4 1046.0,1345.0 1047.5,1347.6 1049.1,1350.2 1050.6,1352.8 1052.1,1355.4 1053.6,1358.0 1055.2,1360.5 1056.8,1363.1 1058.3,1365.6 1059.9,1368.2 1061.6,1370.7 1063.2,1373.3 1064.8,1375.8 1066.5,1378.3 1068.2,1380.8 1069.8,1383.3 1071.6,1385.7 1073.3,1388.2 1075.0,1390.7 1076.8,1393.1 1078.6,1395.5 1080.4,1397.9 1082.2,1400.3 1084.0,1402.7 1085.9,1405.1 1087.8,1407.4 1089.7,1409.8 1091.6,1412.1 1093.5,1414.4 1095.5,1416.7 1097.4,1419.0 1099.4,1421.3 1101.4,1423.5 1103.5,1425.8 1105.5,1428.0 1107.5,1430.2 1109.6,1432.4 1111.7,1434.6 1113.8,1436.8 1115.8,1439.0 1118.0,1441.2 1120.1,1443.3 1122.2,1445.5 1124.3,1447.6 1126.5,1449.7 1128.6,1451.9 1130.8,1454.0 1132.9,1456.1 1135.1,1458.2 1137.3,1460.2 1139.4,1462.3 1141.6,1464.4 1143.8,1466.4 1146.0,1468.4 1148.2,1470.5 1150.4,1472.4 1152.7,1474.4 1154.9,1476.4 1157.2,1478.3 1159.4,1480.2 1161.7,1482.0 1164.1,1483.9 1166.4,1485.7 1168.7,1487.5 1171.1,1489.2 1173.5,1490.9 1175.9,1492.6 1178.4,1494.2 1180.9,1495.7 1183.4,1497.3 1185.9,1498.8 1188.5,1500.2 1191.1,1501.6 1193.7,1502.9 1196.4,1504.2 1199.1,1505.4 1201.8,1506.6 1204.6,1507.7 1207.4,1508.7 1210.2,1509.8 1213.0,1510.7 1215.9,1511.7 1218.8,1512.6 1221.7,1513.5 1224.7,1514.3 1227.6,1515.2 1230.5,1516.1 1233.4,1517.0 1236.4,1517.8 1239.3,1518.7 1242.2,1519.7 1245.1,1520.6 1247.9,1521.6 1250.8,1522.7 1253.6,1523.7 1256.4,1524.9 1259.1,1526.1 1261.9,1527.4 1264.5,1528.7 1267.2,1530.1 1269.7,1531.7 1272.3,1533.3 1274.7,1535.0 1277.2,1536.7 1279.6,1538.5 1282.0,1540.3 1284.4,1542.0 1286.9,1543.8 1289.4,1545.4 1291.9,1546.9 1294.5,1548.3 1297.2,1549.5 1300.0,1550.5 1303.0,1551.4 1306.0,1551.9 1309.2,1552.2 1312.6,1552.2 1322.0,1553.6 1369.4,1553.6 1376.5,1550.1 1390.7,1550.1 1397.8,1548.0 1404.9,1550.4 1419.1,1550.4 1426.2,1547.3 1443.2,1547.3 1454.6,1550.4 1465.9,1550.4 1471.6,1553.2 1483.0,1550.4 1490.0,1548.0 1504.3,1548.0 1511.4,1550.4 1522.7,1550.4 1531.3,1553.6 1539.8,1550.8 1554.0,1550.8 1568.2,1555.0 1602.6,1554.4 1614.0,1552.9 1623.9,1549.4 1638.1,1549.4 1645.2,1543.7 1652.3,1543.7 1659.4,1540.7 1694.9,1540.7 1702.0,1537.9 1716.2,1537.9 1723.3,1540.7 1737.5,1540.7 1744.6,1538.9 1758.8,1539.6 1765.9,1543.9 1773.0,1554.9 1815.6,1554.9 1822.7,1550.2 1836.9,1550.2 1844.0,1545.3 1862.2,1542.1 1879.5,1542.1 1883.9,1544.3 1892.5,1544.3 1901.2,1556.4 1935.8,1556.4 1941.6,1559.3 2013.8,1559.3 2021.0,1555.7 2028.2,1550.8 2039.8,1550.8 2047.0,1545.0 2068.6,1545.0 2074.4,1547.9 2103.3,1547.9 2111.9,1553.7 2117.7,1553.7 2122.0,1559.3 2136.5,1559.3 2143.7,1556.1 2151.5,1556.1 2161.5,1556.1"/>
<polyline stroke="#ff7400" points="327.1,1216.1 337.1,1208.5 339.6,1206.7 341.9,1204.9 344.3,1203.1 346.6,1201.2 348.8,1199.2 351.0,1197.2 353.1,1195.2 355.2,1193.1 357.3,1191.0 359.3,1188.8 361.2,1186.6 363.1,1184.4 365.0,1182.1 366.8,1179.8 368.6,1177.5 370.3,1175.1 372.0,1172.7 373.7,1170.3 375.3,1167.8 376.9,1165.3 378.5,1162.8 380.0,1160.2 381.5,1157.7 382.9,1155.1 384.4,1152.5 385.8,1149.8 387.1,1147.2 388.5,1144.5 389.8,1141.8 391.1,1139.1 392.4,1136.4 393.6,1133.6 394.9,1130.9 396.1,1128.1 397.3,1125.3 398.4,1122.5 399.6,1119.7 400.7,1116.9 401.8,1114.1 403.0,1111.3 404.1,1108.5 405.1,1105.7 406.2,1102.8 407.3,1100.0 408.3,1097.2 409.4,1094.3 410.4,1091.5 411.4,1088.7 412.4,1085.8 413.4,1083.0 414.4,1080.1 415.4,1077.3 416.4,1074.4 417.3,1071.6 418.3,1068.7 419.2,1065.9 420.2,1063.0 421.1,1060.2 422.0,1057.3 422.9,1054.4 423.8,1051.6 424.7,1048.7 425.6,1045.8 426.4,1043.0 427.3,1040.1 428.1,1037.2 429.0,1034.3 429.8,1031.4 430.6,1028.6 431.5,1025.7 432.3,1022.8 433.1,1019.9 433.9,1017.0 434.7,1014.1 435.5,1011.2 436.2,1008.3 437.0,1005.4 437.8,1002.5 438.5,999.6 439.3,996.7 440.0,993.8 440.8,990.9 441.5,988.0 442.2,985.1 442.9,982.2 443.7,979.3 444.4,976.4 445.1,973.5 445.8,970.5 446.5,967.6 447.1,964.7 447.8,961.8 448.5,958.9 449.2,956.0 449.8,953.0 450.5,950.1 451.2,947.2 451.8,944.3 452.5,941.3 453.1,938.4 453.7,935.5 454.4,932.6 455.0,929.6 455.6,926.7 456.3,923.8 456.9,920.8 457.5,917.9 458.1,915.0 458.7,912.0 459.4,909.1 460.0,906.2 460.6,903.2 461.2,900.3 461.8,897.4 462.4,894.4 463.0,891.5 463.6,888.6 464.2,885.6 464.7,882.7 465.3,879.7 465.9,876.8 466.5,873.9 467.1,870.9 467.7,868.0 468.3,865.0 468.8,862.1 469.4,859.2 470.0,856.2 470.6,853.3 471.2,850.3 471.7,847.4 472.3,844.5 472.9,841.5 473.5,838.6 474.0,835.6 474.6,832.7 475.2,829.7 475.7,826.8 476.3,823.9 476.9,820.9 477.4,818.0 478.0,815.0 478.6,812.1 479.1,809.1 479.7,806.2 480.3,803.2 480.8,800.3 481.4,797.4 482.0,794.4 482.5,791.5 483.1,788.5 483.6,785.6 484.2,782.6 484.7,779.7 485.3,776.7 485.9,773.8 486.4,770.8 487.0,767.9 487.5,765.0 488.1,762.0 488.6,759.1 489.2,756.1 489.7,753.2 490.3,750.2 490.8,747.3 491.4,744.3 491.9,741.4 492.5,738.4 493.0,735.5 493.6,732.5 494.1,729.6 494.7,726.6 495.2,723.7 495.7,720.7 496.3,717.8 496.8,714.8 497.4,711.9 497.9,708.9 498.5,706.0 499.0,703.0 499.5,700.1 500.1,697.1 500.6,694.2 501.2,691.2 501.7,688.3 502.2,685.3 502.8,682.4 503.3,679.4 503.8,676.5 504.4,673.5 504.9,670.6 505.4,667.6 506.0,664.7 506.5,661.7 507.0,658.8 507.6,655.8 508.1,652.9 508.6,649.9 509.2,647.0 509.7,644.0 510.2,641.1 510.8,638.1 511.3,635.2 511.8,632.2 512.4,629.2 512.9,626.3 513.4,623.3 513.9,620.4 514.5,617.4 515.0,614.5 515.5,611.5 516.1,608.6 516.6,605.6 517.1,602.7 517.6,599.7 518.2,596.8 518.7,593.8 519.2,590.9 519.7,587.9 520.3,585.0 520.8,582.0 521.3,579.0 521.8,576.1 522.4,573.1 522.9,570.2 523.4,567.2 523.9,564.3 524.5,561.3 525.0,558.4 525.5,555.4 526.0,552.5 526.6,549.5 527.1,546.6 527.6,543.6 528.1,540.6 528.7,537.7 529.2,534.7 529.7,531.8 530.2,528.8 530.8,525.9 531.3,522.9 531.8,520.0 532.3,517.0 532.8,514.1 533.4,511.1 533.9,508.1 534.4,505.2 534.9,502.2 535.5,499.3 536.0,496.3 536.5,493.4 537.0,490.4 537.6,487.5 538.1,484.5 538.6,481.6 539.1,478.6 539.7,475.7 540.2,472.7 540.7,469.7 541.2,466.8 541.8,463.8 542.3,460.9 542.8,457.9 543.3,455.0 543.9,452.0 544.4,449.1 544.9,446.1 545.4,443.2 546.0,440.2 546.5,437.3 547.0,434.3 547.5,431.3 548.1,428.4 548.6,425.4 549.1,422.5 549.6,419.5 550.2,416.6 550.7,413.6 551.2,410.7 551.8,407.7 552.3,404.8 552.8,401.8 553.4,398.9 553.9,395.9 554.4,393.0 555.0,390.0 555.5,387.1 556.0,384.1 556.6,381.2 557.1,378.2 557.6,375.2 558.2,372.3 558.7,369.3 559.2,366.4 559.8,363.4 560.3,360.5 560.9,357.5 561.4,354.6 562.0,351.7 562.5,348.7 563.0,345.8 563.6,342.8 564.1,339.9 564.7,336.9 565.2,334.0 565.8,331.0 566.3,328.1 566.9,325.1 567.4,322.2 568.0,319.2 568.5,316.3 569.1,313.3 569.7,310.4 570.2,307.5 570.8,304.5 571.3,301.6 571.9,298.6 572.5,295.7 573.0,292.7 573.6,289.8 574.2,286.9 574.7,283.9 575.3,281.0 575.9,278.0 576.5,275.1 577.0,272.2 577.6,269.2 578.2,266.3 578.8,263.3 579.4,260.4 579.9,257.5 580.5,254.5 581.1,251.6 581.7,248.7 582.3,245.7 582.9,242.8 583.5,239.9 584.1,236.9 584.7,234.0 585.3,231.1 585.9,228.1 586.5,225.2 587.1,222.3 587.7,219.4 588.4,216.4 589.0,213.5 589.6,210.6 590.3,207.7 591.0,204.8 591.6,201.8 592.3,198.9 593.0,196.0 593.7,193.1 594.4,190.2 595.1,187.3 595.8,184.4 596.5,181.5 597.2,178.6 598.0,175.7 598.8,172.8 599.5,169.9 600.3,167.0 601.1,164.1 601.9,161.3 602.8,158.4 603.6,155.5 604.5,152.6 605.3,149.8 606.2,146.9 607.1,144.0 608.1,141.2 609.0,138.3 610.0,135.5 610.9,132.6 611.9,129.8 612.9,126.9 614.0,124.1 615.0,121.3 616.1,118.4 617.2,115.6 618.3,112.8 619.4,110.0 620.6,107.2 621.7,104.4 622.9,101.6 624.1,98.8 625.4,96.0 626.7,93.2 627.9,90.4 629.3,87.6 630.6,84.9 632.0,82.1 633.4,79.4 634.8,76.7 636.4,74.2 638.1,71.8 640.0,69.8 642.1,68.1 644.5,66.8 647.1,66.0 649.9,65.6 652.7,65.6 655.6,66.1 658.4,66.9 661.1,68.2 663.7,69.8 666.1,71.6 668.4,73.6 670.5,75.8 672.5,78.1 674.4,80.5 676.1,83.0 677.7,85.6 679.3,88.2 680.9,90.8 682.4,93.5 683.8,96.1 685.2,98.8 686.6,101.5 688.0,104.2 689.3,106.9 690.5,109.7 691.8,112.4 693.0,115.1 694.1,117.9 695.3,120.7 696.4,123.4 697.5,126.2 698.5,129.0 699.6,131.8 700.6,134.6 701.6,137.5 702.5,140.3 703.5,143.1 704.4,146.0 705.3,148.8 706.2,151.7 707.0,154.5 707.9,157.4 708.7,160.2 709.5,163.1 710.3,166.0 711.1,168.9 711.9,171.8 712.6,174.6 713.4,177.5 714.2,180.4 714.9,183.3 715.6,186.2 716.4,189.1 717.1,192.0 717.8,194.9 718.5,197.8 719.2,200.7 720.0,203.6 720.7,206.5 721.4,209.4 722.1,212.3 722.8,215.2 723.5,218.1 724.2,221.0 724.8,224.0 725.5,226.9 726.2,229.8 726.9,232.7 727.6,235.6 728.2,238.5 728.9,241.4 729.6,244.3 730.2,247.3 730.9,250.2 731.6,253.1 732.2,256.0 732.9,258.9 733.5,261.9 734.2,264.8 734.8,267.7 735.4,270.6 736.1,273.5 736.7,276.5 737.3,279.4 738.0,282.3 738.6,285.2 739.2,288.2 739.9,291.1 740.5,294.0 741.1,297.0 741.7,299.9 742.3,302.8 742.9,305.7 743.5,308.7 744.1,311.6 744.7,314.5 745.3,317.5 745.9,320.4 746.5,323.3 747.1,326.3 747.7,329.2 748.3,332.1 748.9,335.1 749.5,338.0 750.1,341.0 750.6,343.9 751.2,346.8 751.8,349.8 752.4,352.7 752.9,355.7 753.5,358.6 754.1,361.5 754.6,364.5 755.2,367.4 755.8,370.4 756.3,373.3 756.9,376.3 757.4,379.2 758.0,382.2 758.5,385.1 759.1,388.1 759.6,391.0 760.2,393.9 760.7,396.9 761.3,399.8 761.8,402.8 762.4,405.7 762.9,408.7 763.5,411.6 764.0,414.6 764.5,417.5 765.1,420.5 765.6,423.4 766.1,426.4 766.7,429.3 767.2,432.3 767.7,435.3 768.3,438.2 768.8,441.2 769.3,444.1 769.8,447.1 770.4,450.0 770.9,453.0 771.4,455.9 771.9,458.9 772.4,461.8 773.0,464.8 773.5,467.8 774.0,470.7 774.5,473.7 775.0,476.6 775.5,479.6 776.1,482.5 776.6,485.5 777.1,488.5 777.6,491.4 778.1,494.4 778.6,497.3 779.1,500.3 779.6,503.2 780.2,506.2 780.7,509.2 781.2,512.1 781.7,515.1 782.2,518.0 782.7,521.0 783.2,524.0 783.7,526.9 784.2,529.9 784.7,532.8 785.2,535.8 785.7,538.8 786.2,541.7 786.7,544.7 787.2,547.6 787.7,550.6 788.3,553.6 788.8,556.5 789.3,559.5 789.8,562.4 790.3,565.4 790.8,568.4 791.3,571.3 791.8,574.3 792.3,577.2 792.8,580.2 793.3,583.2 793.8,586.1 794.3,589.1 794.8,592.0 795.3,595.0 795.8,598.0 796.3,600.9 796.9,603.9 797.4,606.8 797.9,609.8 798.4,612.8 798.9,615.7 799.4,618.7 799.9,621.6 800.4,624.6 800.9,627.6 801.5,630.5 802.0,633.5 802.5,636.4 803.0,639.4 803.5,642.3 804.0,645.3 804.5,648.3 805.1,651.2 805.6,654.2 806.1,657.1 806.6,660.1 807.1,663.0 807.7,666.0 808.2,669.0 808.7,671.9 809.2,674.9 809.8,677.8 810.3,680.8 810.8,683.7 811.3,686.7 811.9,689.6 812.4,692.6 812.9,695.6 813.5,698.5 814.0,701.5 814.5,704.4 815.1,707.4 815.6,710.3 816.1,713.3 816.7,716.2 817.2,719.2 817.7,722.1 818.3,725.1 818.8,728.0 819.4,731.0 819.9,733.9 820.5,736.9 821.0,739.8 821.6,742.8 822.1,745.7 822.7,748.7 823.2,751.6 823.8,754.6 824.3,757.5 824.9,760.5 825.5,763.4 826.0,766.4 826.6,769.3 827.2,772.2 827.7,775.2 828.3,778.1 828.9,781.1 829.4,784.0 830.0,787.0 830.6,789.9 831.2,792.9 831.7,795.8 832.3,798.7 832.9,801.7 833.5,804.6 834.1,807.6 834.6,810.5 835.2,813.4 835.8,816.4 836.4,819.3 837.0,822.2 837.6,825.2 838.2,828.1 838.8,831.1 839.4,834.0 840.0,836.9 840.6,839.9 841.2,842.8 841.8,845.7 842.5,848.7 843.1,851.6 843.7,854.5 844.3,857.5 844.9,860.4 845.5,863.3 846.2,866.2 846.8,869.2 847.4,872.1 848.1,875.0 848.7,878.0 849.3,880.9 850.0,883.8 850.6,886.7 851.3,889.7 851.9,892.6 852.6,895.5 853.2,898.4 853.9,901.3 854.5,904.3 855.2,907.2 855.8,910.1 856.5,913.0 857.2,915.9 857.8,918.9 858.5,921.8 859.2,924.7 859.9,927.6 860.5,930.5 861.2,933.4 861.9,936.4 862.6,939.3 863.3,942.2 864.0,945.1 864.7,948.0 865.4,950.9 866.1,953.8 866.8,956.7 867.5,959.6 868.2,962.5 868.9,965.5 869.6,968.4 870.4,971.3 871.1,974.2 871.8,977.1 872.5,980.0 873.3,982.9 874.0,985.8 874.7,988.7 875.5,991.6 876.2,994.5 877.0,997.4 877.7,1000.3 878.5,1003.2 879.2,1006.1 880.0,1008.9 880.8,1011.8 881.6,1014.7 882.3,1017.6 883.1,1020.5 883.9,1023.4 884.7,1026.3 885.5,1029.2 886.3,1032.1 887.1,1034.9 887.9,1037.8 888.7,1040.7 889.5,1043.6 890.3,1046.5 891.1,1049.4 891.9,1052.2 892.8,1055.1 893.6,1058.0 894.4,1060.9 895.3,1063.7 896.1,1066.6 897.0,1069.5 897.8,1072.4 898.7,1075.2 899.5,1078.1 900.4,1081.0 901.3,1083.8 902.2,1086.7 903.1,1089.6 903.9,1092.4 904.8,1095.3 905.7,1098.2 906.6,1101.0 907.5,1103.9 908.5,1106.8 909.4,1109.6 910.3,1112.5 911.2,1115.3 912.2,1118.2 913.1,1121.0 914.0,1123.9 915.0,1126.7 916.0,1129.6 916.9,1132.4 917.9,1135.3 918.9,1138.1 919.8,1141.0 920.8,1143.8 921.8,1146.7 922.8,1149.5 923.8,1152.3 924.8,1155.2 925.8,1158.0 926.9,1160.9 927.9,1163.7 928.9,1166.5 929.9,1169.4 931.0,1172.2 932.0,1175.0 933.1,1177.8 934.2,1180.7 935.2,1183.5 936.3,1186.3 937.4,1189.1 938.5,1191.9 939.6,1194.8 940.7,1197.6 941.8,1200.4 942.9,1203.2 944.1,1206.0 945.2,1208.8 946.4,1211.6 947.5,1214.4 948.7,1217.2 949.8,1219.9 951.0,1222.7 952.2,1225.5 953.4,1228.3 954.6,1231.0 955.8,1233.8 957.1,1236.5 958.3,1239.3 959.5,1242.0 960.8,1244.8 962.1,1247.5 963.3,1250.3 964.6,1253.0 965.9,1255.7 967.2,1258.4 968.5,1261.1 969.9,1263.8 971.2,1266.5 972.6,1269.2 973.9,1271.9 975.3,1274.6 976.7,1277.2 978.1,1279.9 979.5,1282.5 980.9,1285.2 982.3,1287.8 983.8,1290.4 985.2,1293.1 986.7,1295.7 988.2,1298.3 989.6,1300.9 991.2,1303.5 992.7,1306.1 994.2,1308.6 995.7,1311.2 997.3,1313.8 998.9,1316.3 1000.4,1318.8 1002.0,1321.4 1003.7,1323.9 1005.3,1326.4 1006.9,1328.9 1008.6,1331.4 1010.2,1333.9 1011.9,1336.3 1013.6,1338.8 1015.3,1341.2 1017.0,1343.7 1018.8,1346.1 1020.5,1348.5 1022.3,1350.9 1024.1,1353.3 1025.9,1355.7 1027.7,1358.1 1029.5,1360.4 1031.4,1362.8 1033.2,1365.1 1035.1,1367.4 1037.0,1369.7 1038.9,1372.0 1040.9,1374.3 1042.8,1376.6 1044.8,1378.9 1046.7,1381.1 1048.7,1383.3 1050.7,1385.6 1052.8,1387.8 1054.8,1390.0 1056.9,1392.1 1058.9,1394.3 1061.0,1396.4 1063.1,1398.6 1065.2,1400.7 1067.4,1402.8 1069.5,1404.8 1071.7,1406.9 1073.9,1409.0 1076.1,1411.0 1078.3,1413.0 1080.5,1415.0 1082.7,1417.0 1085.0,1418.9 1087.3,1420.9 1089.6,1422.8 1091.9,1424.7 1094.2,1426.6 1096.5,1428.4 1098.8,1430.3 1101.2,1432.1 1103.6,1433.9 1106.0,1435.7 1108.4,1437.4 1110.8,1439.2 1113.2,1440.9 1115.7,1442.6 1118.1,1444.3 1120.6,1445.9 1123.1,1447.5 1125.6,1449.1 1128.1,1450.7 1130.7,1452.3 1133.2,1453.8 1135.8,1455.3 1138.4,1456.8 1141.0,1458.3 1143.6,1459.7 1146.2,1461.1 1148.8,1462.5 1151.5,1463.9 1154.1,1465.2 1156.8,1466.5 1159.5,1467.8 1162.2,1469.0 1164.9,1470.3 1167.6,1471.5 1170.4,1472.6 1173.1,1473.8 1175.9,1474.9 1178.7,1476.0 1181.5,1477.0 1184.3,1478.1 1187.1,1479.1 1189.9,1480.1 1192.8,1481.0 1195.6,1481.9 1198.5,1482.8 1201.4,1483.7 1204.3,1484.5 1207.2,1485.3 1210.1,1486.0 1213.1,1486.8 1216.0,1487.5 1219.0,1488.1 1221.9,1488.8 1224.9,1489.4 1227.9,1490.0 1230.9,1490.6 1233.8,1491.1 1236.8,1491.7 1239.9,1492.2 1242.9,1492.7 1245.9,1493.1 1248.9,1493.5 1251.9,1494.0 1254.9,1494.4 1258.0,1494.7 1261.0,1495.1 1264.0,1495.4 1267.1,1495.7 1270.1,1496.1 1273.1,1496.3 1276.1,1496.6 1279.2,1496.9 1282.2,1497.1 1285.2,1497.3 1288.2,1497.5 1291.2,1497.7 1294.2,1497.9 1297.2,1498.1 1300.2,1498.3 1303.2,1498.4 1306.2,1498.6 1309.1,1498.7 1312.1,1498.8 1315.0,1499.0 1318.0,1499.1 1320.9,1499.2 1323.8,1499.3 1326.7,1499.4 1329.6,1499.5 1332.5,1499.5 1335.4,1499.6 1338.2,1499.7 1346.7,1503.2 1387.8,1503.2 1393.5,1506.1 1421.9,1506.1 1429.0,1502.8 1478.7,1502.8 1483.0,1505.7 1491.5,1505.7 1497.2,1502.8 1515.6,1502.8 1525.6,1505.7 1539.8,1509.6 1554.0,1514.9 1560.0,1515.3 1574.2,1520.6 1588.4,1520.6 1595.5,1523.8 1638.1,1523.8 1645.2,1526.7 1656.6,1526.7 1666.5,1532.4 1673.6,1532.4 1680.7,1535.9 1723.3,1535.9 1730.4,1538.7 1744.6,1538.7 1751.7,1542.3 1758.8,1546.1 1765.9,1546.1 1773.0,1548.0 1801.4,1548.0 1808.5,1550.8 1815.6,1550.8 1822.7,1553.2 1860.8,1552.9 1865.0,1550.3 1902.6,1550.3 1907.0,1553.2 2021.0,1553.2 2028.2,1555.3 2047.0,1555.3 2049.9,1553.2 2080.2,1553.2 2086.0,1555.3 2136.5,1555.3 2140.8,1553.6 2151.5,1553.6 2161.5,1553.6"/>
</g>
<rect x="1466" y="84.4" width="636" height="347.3" rx="2.5" fill="#000"/>
<rect x="1469" y="88" width="635" height="345.7" rx="2.5" fill="#000"/>
<rect x="1455.5" y="74.4" width="639.8" height="350" fill="#fff" stroke="#000" stroke-width="2.6"/>
<g stroke-width="14" stroke-linecap="round">
<line x1="1473.5" y1="142.6" x2="1568" y2="142.6" stroke="#ff0000"/>
<line x1="1473.5" y1="248.1" x2="1568" y2="248.1" stroke="#2268e6"/>
<line x1="1473.5" y1="353.9" x2="1568" y2="353.9" stroke="#ff7400"/>
</g>
<g font-family="'DejaVu Sans','Liberation Sans',sans-serif" font-size="81" fill="#000">
<text x="1594.4 1655.9 1726.3 1780.8" y="167.1" font-size="81">DMSO</text>
<text x="1594.4 1657.6 1712.0" y="272.9" font-size="81">DCM</text>
<text x="1594.7 1651.5 1691.7 1739.9 1772.0 1821.3 1872.3 1896.6 1929.8 1963.4 1987.1 2009.2" y="378.8" font-size="81">Acetonitrile</text>
</g>
</svg></body></html>
